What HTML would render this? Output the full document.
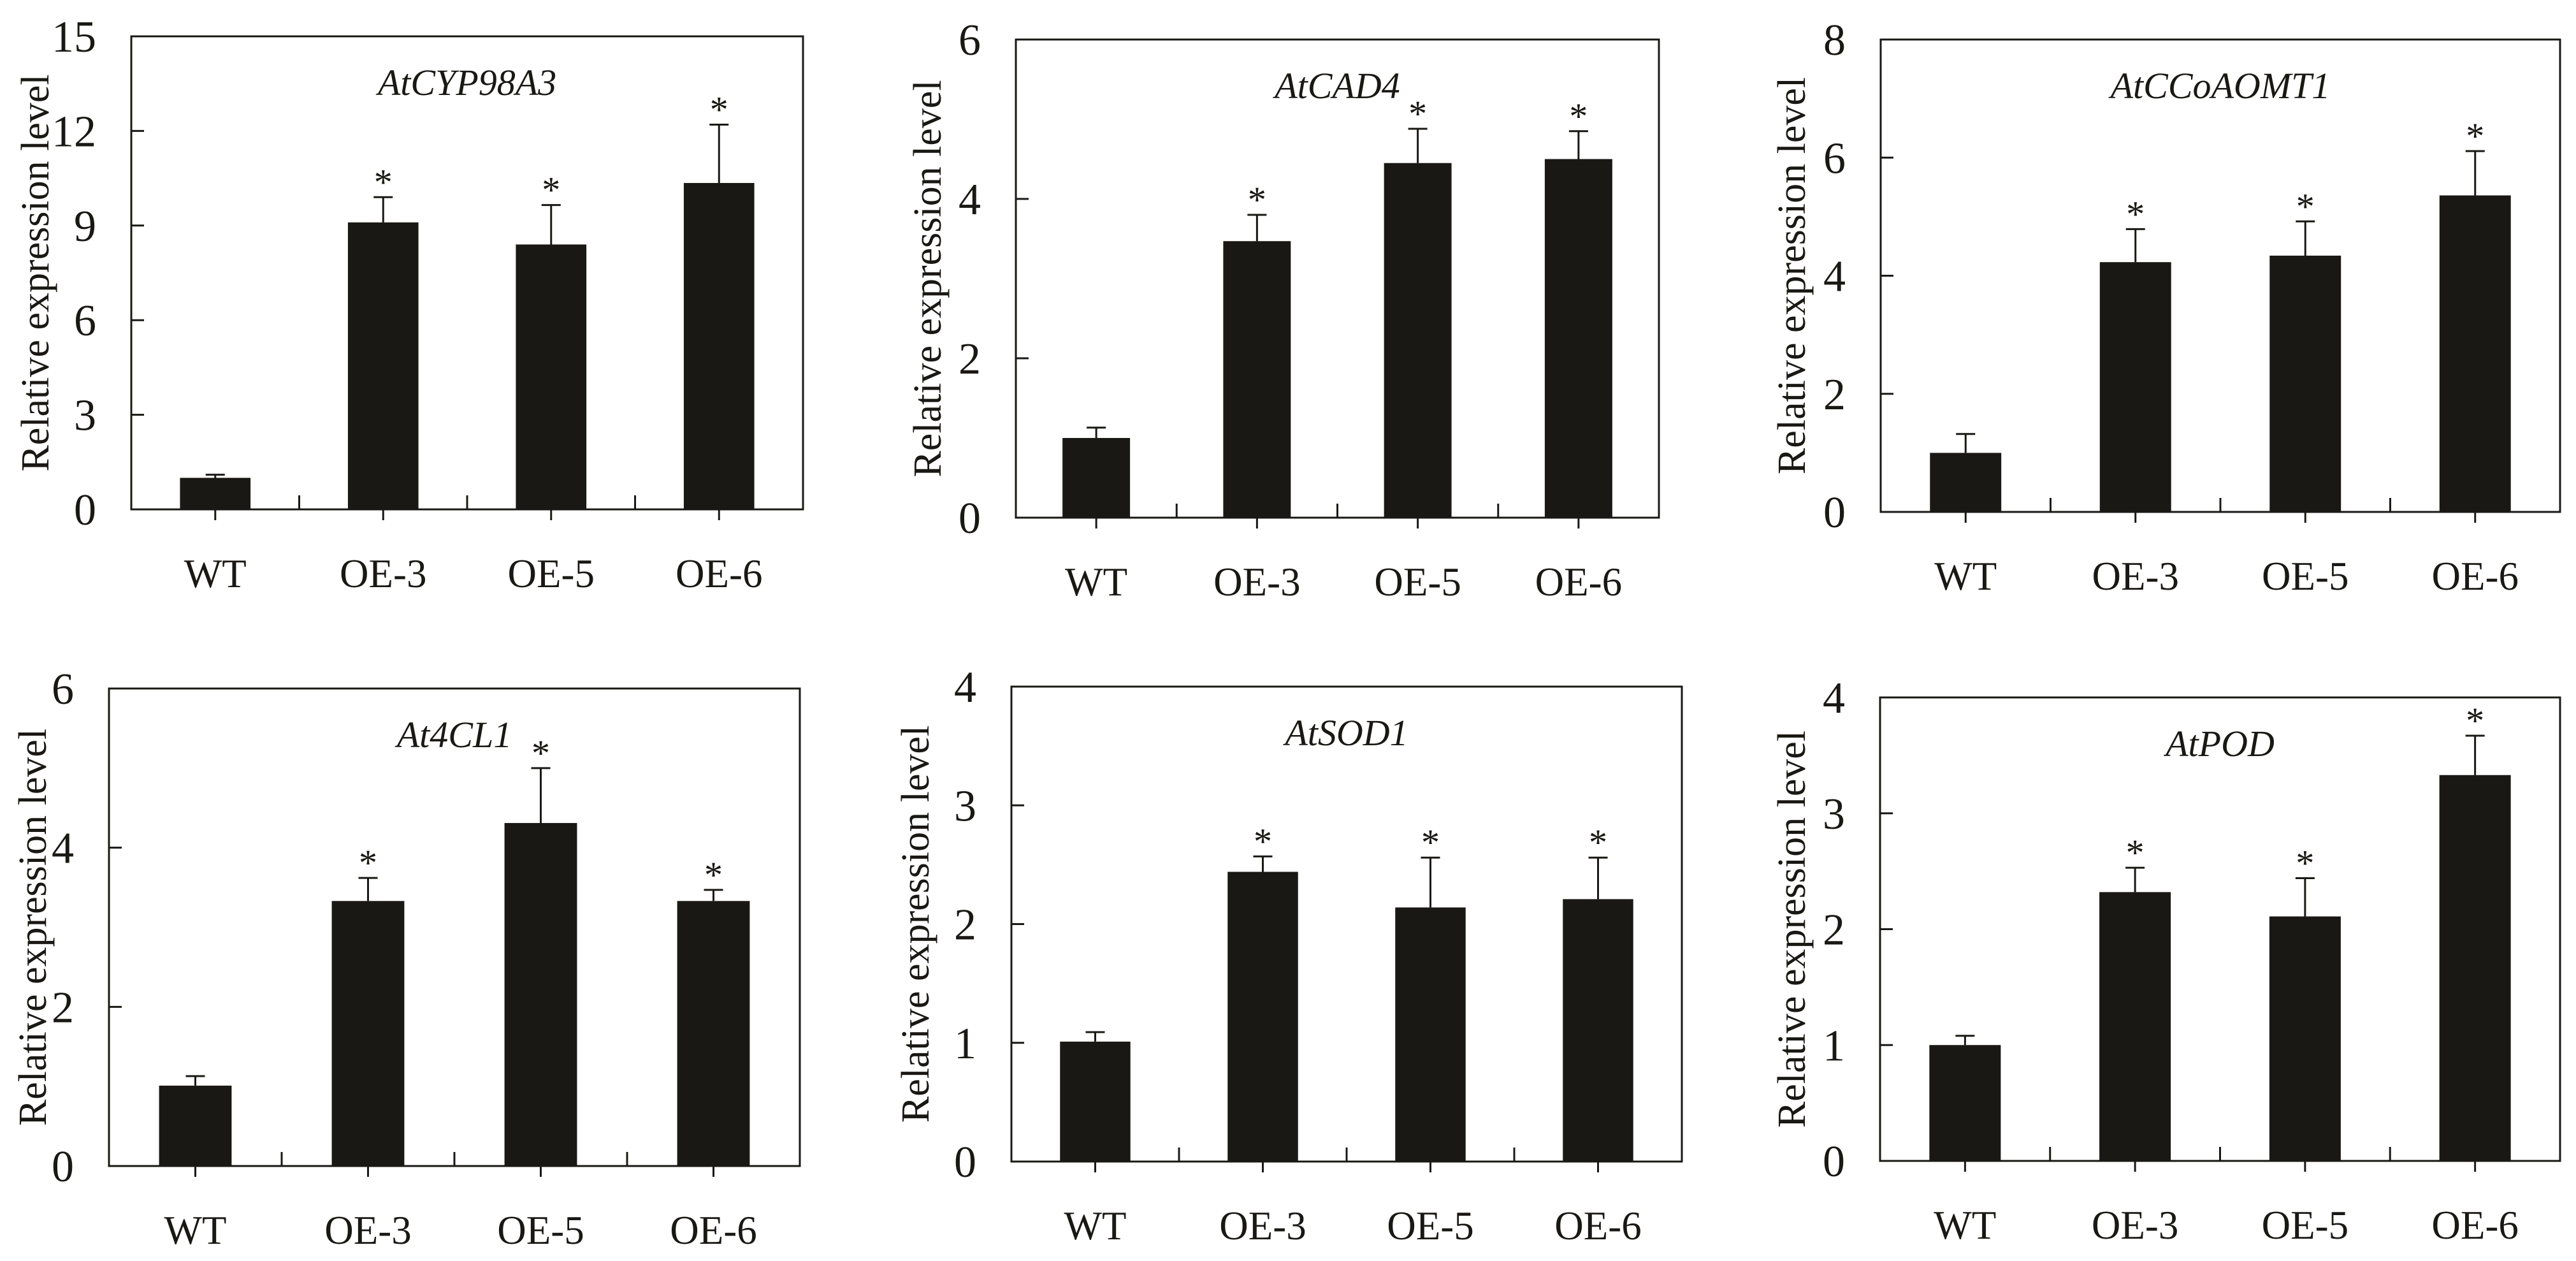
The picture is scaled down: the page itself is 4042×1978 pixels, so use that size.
<!DOCTYPE html>
<html><head><meta charset="utf-8">
<style>
html,body{margin:0;padding:0;background:#fff;}
svg{display:block;font-family:"Liberation Serif","Times New Roman",serif;}
</style></head>
<body>
<svg id="fig" width="4042" height="1978" viewBox="0 0 4042 1978" xmlns="http://www.w3.org/2000/svg"></svg>
<script>
const categories = ["WT","OE-3","OE-5","OE-6"];
const titles = ["AtCYP98A3","AtCAD4","AtCCoAOMT1","At4CL1","AtSOD1","AtPOD"];
const valsCYP98A3 = [1.0, 9.1, 8.4, 10.35];
const errCYP98A3  = [1.1, 9.9, 9.65, 12.2];
const valsCAD4 = [1.0, 3.47, 4.45, 4.5];
const errCAD4  = [1.13, 3.8, 4.88, 4.85];
const valsCCoAOMT1 = [1.0, 4.23, 4.34, 5.36];
const errCCoAOMT1  = [1.32, 4.79, 4.92, 6.11];
const vals4CL1 = [1.01, 3.33, 4.31, 3.33];
const err4CL1  = [1.13, 3.62, 5.0, 3.47];
const valsSOD1 = [1.01, 2.44, 2.14, 2.21];
const errSOD1  = [1.09, 2.57, 2.56, 2.56];
const valsPOD = [1.0, 2.32, 2.11, 3.33];
const errPOD  = [1.08, 2.53, 2.44, 3.67];
const ticksCYP98A3 = [0,3,6,9,12,15];
const ticksCAD4 = [0,2,4,6];
const ticksCCoAOMT1 = [0,2,4,6,8];
const ticks4CL1 = [0,2,4,6];
const ticksSOD1 = [0,1,2,3,4];
const ticksPOD = [0,1,2,3,4];
const starsShown = [false,true,true,true];

const panels = [
 {L:206,R:1260,T:57,B:799,vals:valsCYP98A3,err:errCYP98A3,ticks:ticksCYP98A3,yl:56},
 {L:1594,R:2603,T:62,B:812,vals:valsCAD4,err:errCAD4,ticks:ticksCAD4,yl:1456},
 {L:2951,R:4017,T:62,B:803,vals:valsCCoAOMT1,err:errCCoAOMT1,ticks:ticksCCoAOMT1,yl:2812},
 {L:171,R:1255,T:1080,B:1829,vals:vals4CL1,err:err4CL1,ticks:ticks4CL1,yl:52},
 {L:1587,R:2639,T:1077,B:1822,vals:valsSOD1,err:errSOD1,ticks:ticksSOD1,yl:1437},
 {L:2950,R:4017,T:1094,B:1821,vals:valsPOD,err:errPOD,ticks:ticksPOD,yl:2812}
];
const NS="http://www.w3.org/2000/svg";
const svg=document.getElementById('fig');
function mk(tag,attrs,parent){const e=document.createElementNS(NS,tag);for(const k in attrs)e.setAttribute(k,attrs[k]);(parent||svg).appendChild(e);return e;}
panels.forEach((p,pi)=>{
  const g=mk('g',{});
  
  
  const ymax=p.ticks[p.ticks.length-1];
  const y=v=>p.B-(v/ymax)*(p.B-p.T);
  const slot=(p.R-p.L)/categories.length;
  const xc=i=>p.L+slot*(i+0.5);
  const bw=slot*0.42;
  const frame=mk('rect',{x:p.L,y:p.T,width:p.R-p.L,height:p.B-p.T,fill:'none',stroke:'#1a1814','stroke-width':3},g);
  
  
  p.ticks.forEach(t=>{
    const ty=y(t);
    if(t>0&&t<ymax){const tk=mk('line',{x1:p.L,x2:p.L+20,y1:ty,y2:ty,stroke:'#1a1814','stroke-width':3},g);
      }
    const tl=mk('text',{x:p.L-55,y:ty+24,'text-anchor':'end','font-size':70,fill:'#1a1814'},g);
    tl.textContent=t;
    
    
  });
  for(let i=1;i<categories.length;i++){
    const sx=p.L+slot*i;
    const st=mk('line',{x1:sx,x2:sx,y1:p.B,y2:p.B-22,stroke:'#1a1814','stroke-width':3},g);
    
  }
  categories.forEach((c,i)=>{
    const cx=xc(i);
    const ct=mk('line',{x1:cx,x2:cx,y1:p.B,y2:p.B+17,stroke:'#1a1814','stroke-width':3},g);
    
    const bar=mk('rect',{x:cx-bw/2,y:y(p.vals[i]),width:bw,height:p.B-y(p.vals[i]),fill:'#1a1814'},g);
    
    
    const ey=y(p.err[i]);
    const el=mk('path',{d:`M${cx},${y(p.vals[i])}V${ey}M${cx-15},${ey}H${cx+15}`,stroke:'#1a1814','stroke-width':3,fill:'none'},g);
    
    
    if(starsShown[i]){
      const s=mk('text',{x:cx,y:ey-4,'text-anchor':'middle','font-size':58,fill:'#1a1814'},g);
      s.textContent='*';
      
      
    }
    const xl=mk('text',{x:cx,y:p.B+122,'text-anchor':'middle','font-size':63,fill:'#1a1814'},g);
    xl.textContent=c;
    
    
  });
  const tt=mk('text',{x:(p.L+p.R)/2,y:p.T+92,'text-anchor':'middle','font-size':58,'font-style':'italic',fill:'#1a1814'},g);
  tt.textContent=titles[pi];
  
  
  const cy=(p.T+p.B)/2;
  const yl=mk('text',{x:p.yl,y:cy,'text-anchor':'middle','dominant-baseline':'central','font-size':62,fill:'#1a1814',transform:`rotate(-90 ${p.yl} ${cy})`},g);
  yl.textContent='Relative expression level';
  
  
});
</script>
</body></html>
